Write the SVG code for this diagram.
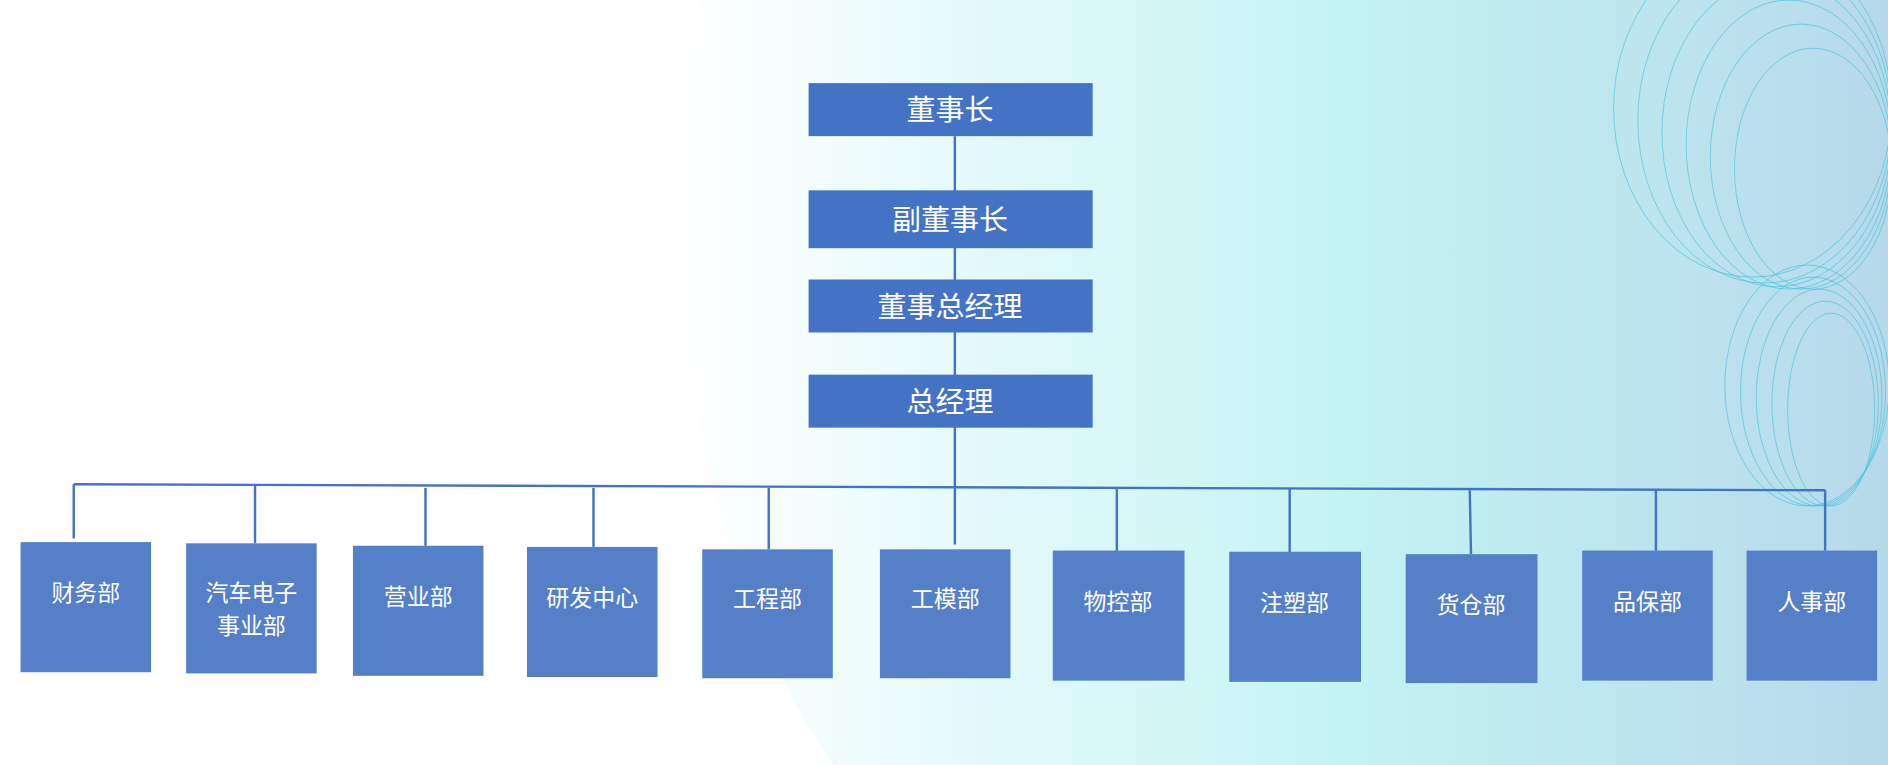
<svg xmlns="http://www.w3.org/2000/svg" width="1888" height="765" viewBox="0 0 1888 765">
<defs>
<linearGradient id="bg" x1="0" y1="0" x2="1" y2="0">
<stop offset="0" stop-color="#ffffff"/>
<stop offset="0.15" stop-color="#eefcfc"/>
<stop offset="0.55" stop-color="#c4f3f3"/>
<stop offset="1" stop-color="#b6d9ea"/>
</linearGradient>
<style>
.top{fill:#4472c4}
.dep{fill:#5580c8}
.t1{font-family:"Noto Sans CJK SC","Noto Sans",sans-serif;font-size:24px;fill:#fff;text-anchor:middle}
.t2{font-family:"Noto Sans CJK SC","Noto Sans",sans-serif;font-size:19px;fill:#fff;text-anchor:middle}
.ln{stroke:#4472c4;stroke-width:2;fill:none}
.w{stroke:#4cc3dc;stroke-width:0.7;fill:none;opacity:0.8}
</style>
</defs>
<g transform="scale(1.2087 1.2047)">
<rect width="1562" height="635" fill="#fff"/>
<path d="M580 0 C540 150 560 450 690 635 L1562 635 L1562 0 Z" fill="url(#bg)"/>
<g id="deco">
<ellipse class="w" cx="1450" cy="90" rx="115" ry="140"/>
<ellipse class="w" cx="1460" cy="100" rx="105" ry="135"/>
<ellipse class="w" cx="1470" cy="110" rx="95" ry="128"/>
<ellipse class="w" cx="1480" cy="120" rx="85" ry="120"/>
<ellipse class="w" cx="1490" cy="130" rx="75" ry="110"/>
<ellipse class="w" cx="1500" cy="140" rx="65" ry="100"/>
<ellipse class="w" cx="1495" cy="320" rx="68" ry="100"/>
<ellipse class="w" cx="1500" cy="325" rx="60" ry="95"/>
<ellipse class="w" cx="1505" cy="330" rx="52" ry="90"/>
<ellipse class="w" cx="1510" cy="335" rx="44" ry="85"/>
<ellipse class="w" cx="1515" cy="340" rx="36" ry="80"/>
</g>
<g id="connectors">
<line class="ln" x1="790" y1="113" x2="790" y2="452"/>
<line class="ln" x1="61" y1="402" x2="1510" y2="407" stroke-width="3"/>
<line class="ln" x1="61" y1="402" x2="61" y2="447"/>
<line class="ln" x1="211" y1="403" x2="211" y2="451"/>
<line class="ln" x1="352" y1="405" x2="352" y2="453"/>
<line class="ln" x1="491" y1="405" x2="491" y2="454"/>
<line class="ln" x1="636" y1="405" x2="636" y2="456"/>
<line class="ln" x1="924" y1="406" x2="924" y2="465"/>
<line class="ln" x1="1067" y1="406" x2="1067" y2="478"/>
<line class="ln" x1="1216" y1="407" x2="1217" y2="460"/>
<line class="ln" x1="1370" y1="407" x2="1370" y2="467"/>
<line class="ln" x1="1510" y1="407" x2="1510" y2="457"/>
</g>
<g id="n1"><rect class="top" x="669" y="69" width="235" height="44"/><text class="t1" x="786" y="100">董事长</text></g>
<g id="n2"><rect class="top" x="669" y="158" width="235" height="48"/><text class="t1" x="786" y="191">副董事长</text></g>
<g id="n3"><rect class="top" x="669" y="232" width="235" height="44"/><text class="t1" x="786" y="263">董事总经理</text></g>
<g id="n4"><rect class="top" x="669" y="311" width="235" height="44"/><text class="t1" x="786" y="342">总经理</text></g>
<g id="d1"><rect class="dep" x="17" y="450" width="108" height="108"/><text class="t2" x="71" y="499">财务部</text></g>
<g id="d2"><rect class="dep" x="154" y="451" width="108" height="108"/><text class="t2" x="208" y="499">汽车电子</text><text class="t2" x="208" y="526">事业部</text></g>
<g id="d3"><rect class="dep" x="292" y="453" width="108" height="108"/><text class="t2" x="346" y="502">营业部</text></g>
<g id="d4"><rect class="dep" x="436" y="454" width="108" height="108"/><text class="t2" x="490" y="503">研发中心</text></g>
<g id="d5"><rect class="dep" x="581" y="456" width="108" height="107"/><text class="t2" x="635" y="504">工程部</text></g>
<g id="d6"><rect class="dep" x="728" y="456" width="108" height="107"/><text class="t2" x="782" y="504">工模部</text></g>
<g id="d7"><rect class="dep" x="871" y="457" width="109" height="108"/><text class="t2" x="925" y="506">物控部</text></g>
<g id="d8"><rect class="dep" x="1017" y="458" width="109" height="108"/><text class="t2" x="1071" y="507">注塑部</text></g>
<g id="d9"><rect class="dep" x="1163" y="460" width="109" height="107"/><text class="t2" x="1217" y="509">货仓部</text></g>
<g id="d10"><rect class="dep" x="1309" y="457" width="108" height="108"/><text class="t2" x="1363" y="506">品保部</text></g>
<g id="d11"><rect class="dep" x="1445" y="457" width="108" height="108"/><text class="t2" x="1499" y="506">人事部</text></g>
</g>
</svg>
